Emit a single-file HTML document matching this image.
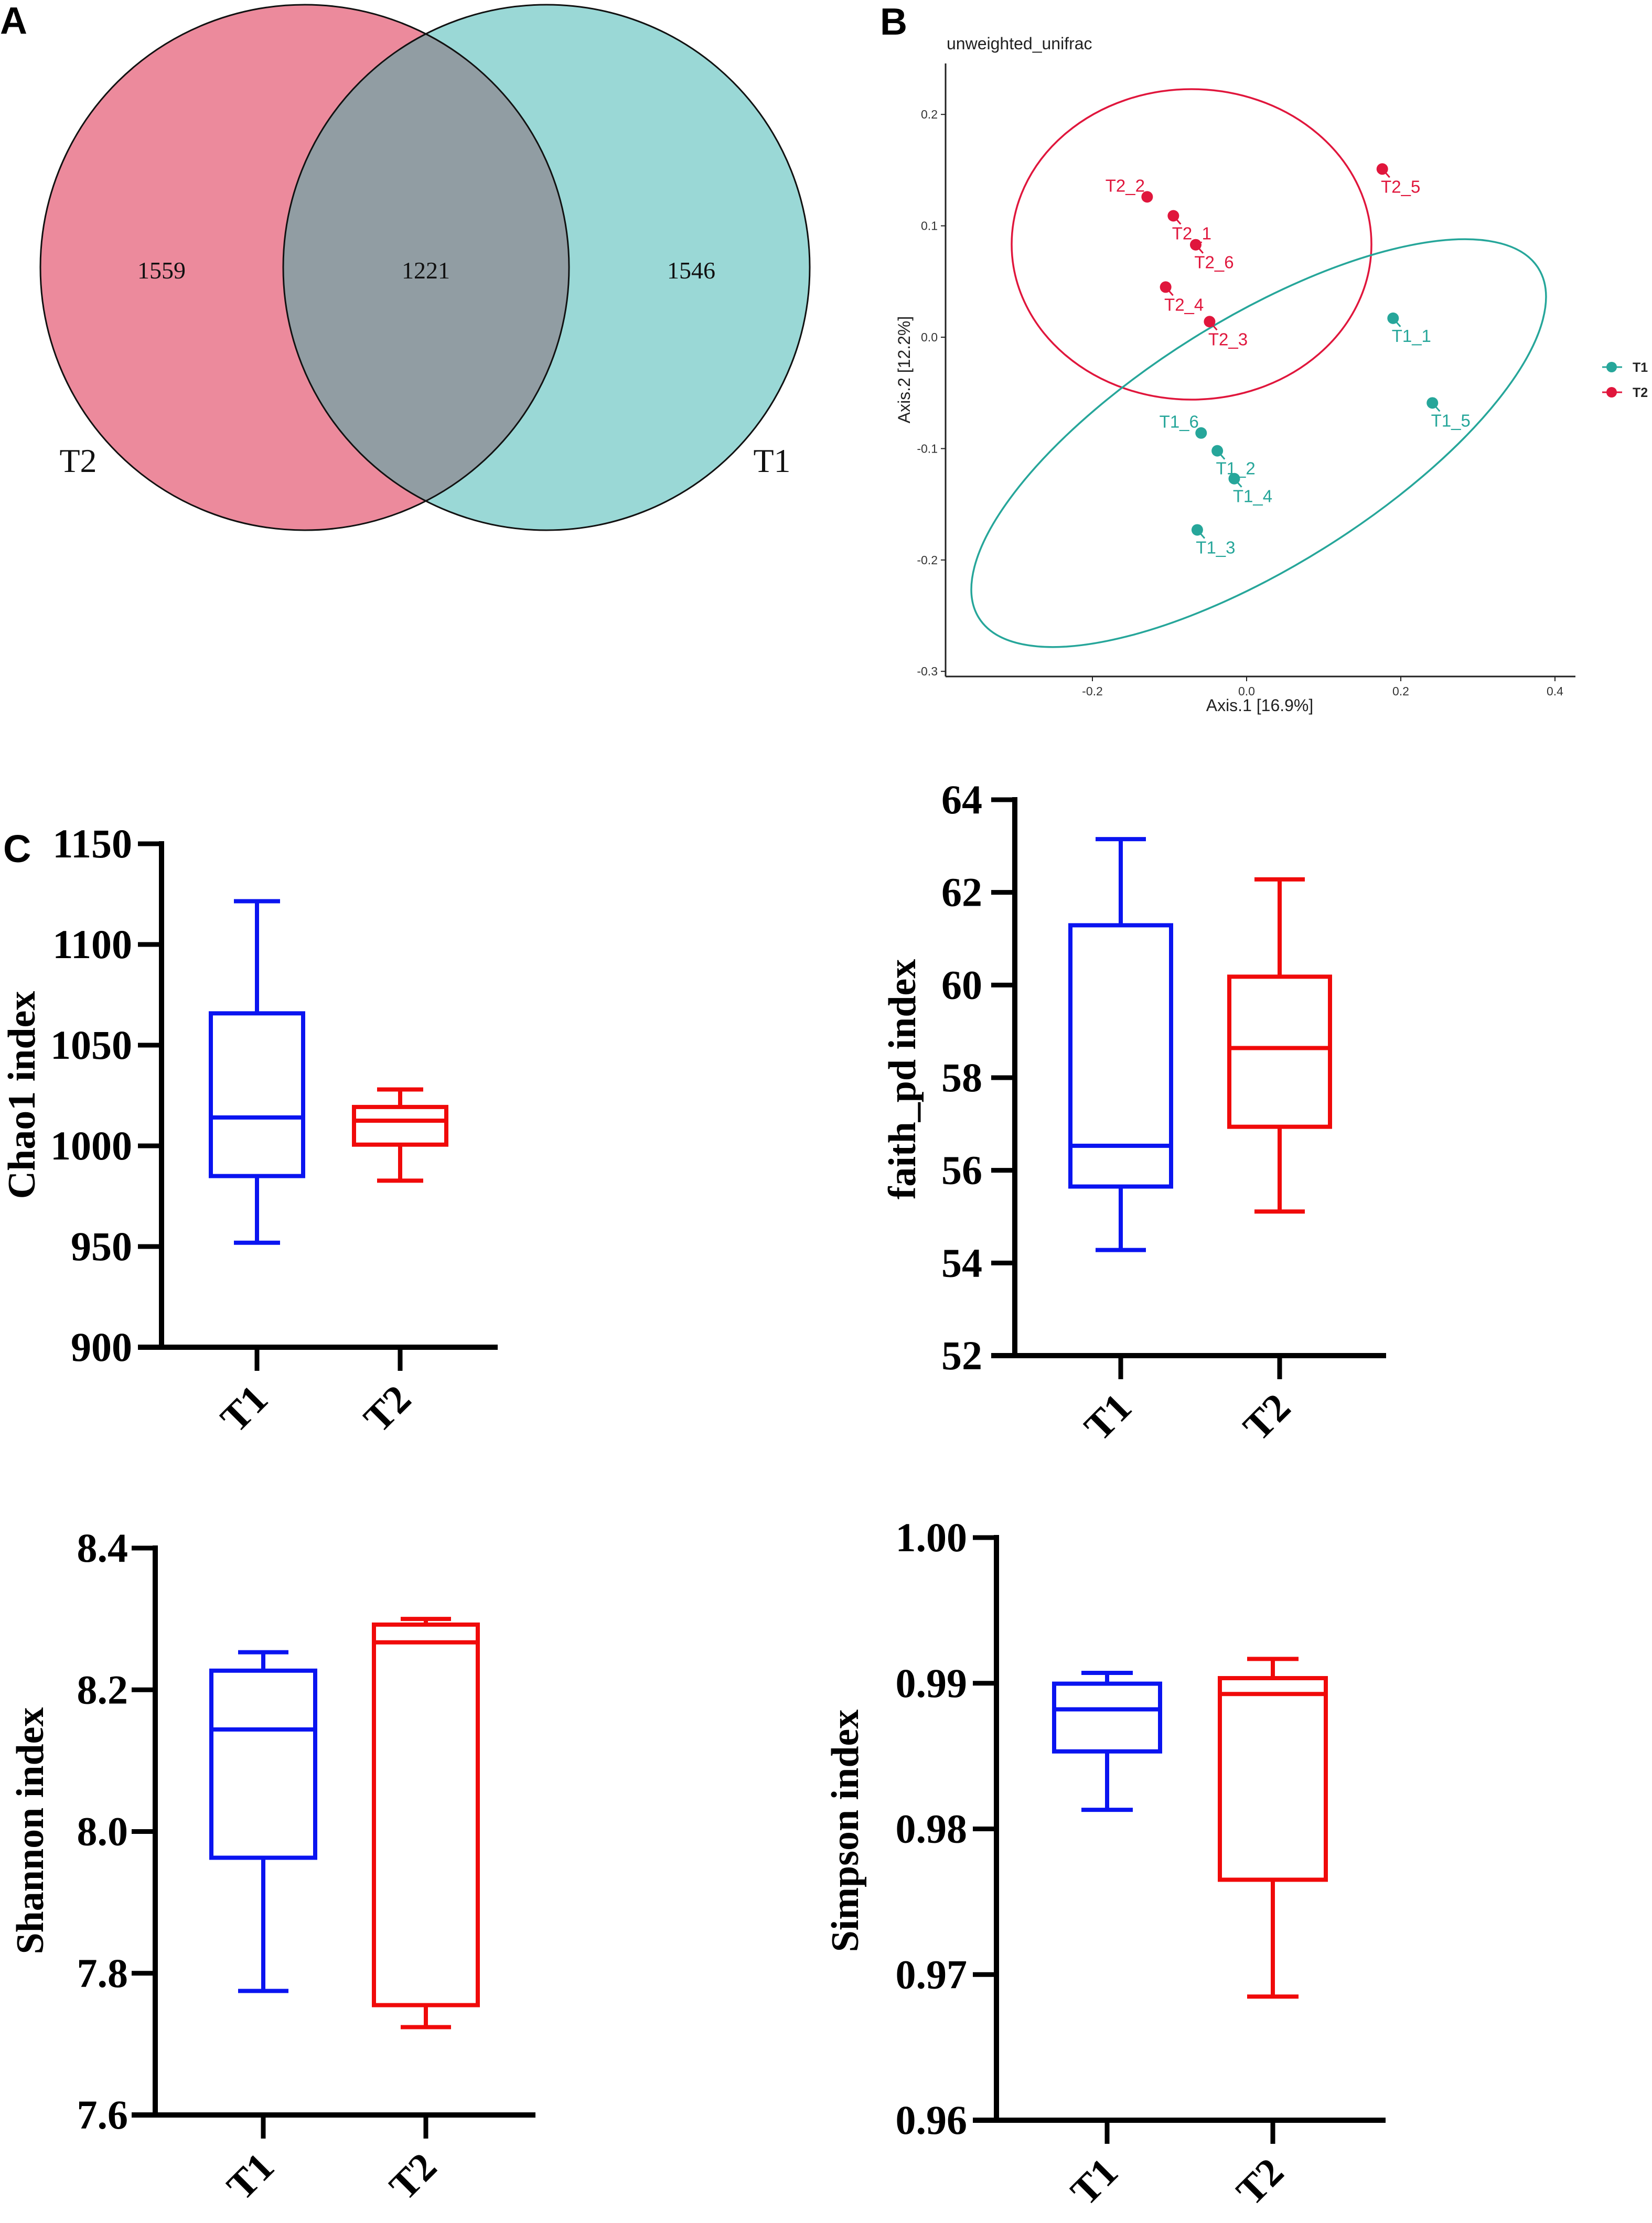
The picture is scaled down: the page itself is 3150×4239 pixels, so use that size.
<!DOCTYPE html>
<html><head><meta charset="utf-8"><style>
html,body{margin:0;padding:0;background:#fff;}
svg{display:block;}
</style></head><body>
<svg id="fig" xmlns="http://www.w3.org/2000/svg" width="3150" height="4239" viewBox="0 0 3150 4239">
<rect width="3150" height="4239" fill="#fff"/>
<!-- Panel A Venn -->
<g>
<text x="0" y="64" font-family="Liberation Sans, sans-serif" font-weight="bold" font-size="72">A</text>
<defs><clipPath id="clipL"><ellipse cx="581" cy="510" rx="504" ry="501"/></clipPath></defs>
<ellipse cx="581" cy="510" rx="504" ry="501" fill="#EC8A9C"/>
<ellipse cx="1042" cy="510" rx="502" ry="501" fill="#9AD8D6"/>
<ellipse cx="1042" cy="510" rx="502" ry="501" fill="#919DA3" clip-path="url(#clipL)"/>
<ellipse cx="581" cy="510" rx="504" ry="501" fill="none" stroke="#111" stroke-width="3"/>
<ellipse cx="1042" cy="510" rx="502" ry="501" fill="none" stroke="#111" stroke-width="3"/>
<g font-family="Liberation Serif, serif" font-size="46" fill="#111" text-anchor="middle">
<text x="308" y="531">1559</text>
<text x="812" y="531">1221</text>
<text x="1318" y="531">1546</text>
</g>
<g font-family="Liberation Serif, serif" font-size="64" fill="#111" text-anchor="middle">
<text x="149" y="900">T2</text>
<text x="1472" y="900">T1</text>
</g>
</g>
<!-- Panel B PCoA -->
<g id="pcoa">
<text x="1678" y="66" font-family="Liberation Sans, sans-serif" font-weight="bold" font-size="72">B</text>
<text x="1805" y="94" font-family="Liberation Sans, sans-serif" font-size="32" fill="#222">unweighted_unifrac</text>
<text x="2402" y="1356" text-anchor="middle" font-family="Liberation Sans, sans-serif" font-size="32" fill="#222">Axis.1 [16.9%]</text>
<text transform="translate(1735,705) rotate(-90)" text-anchor="middle" font-family="Liberation Sans, sans-serif" font-size="32" fill="#222">Axis.2 [12.2%]</text>
</g>
<g id="boxes"></g>
<text x="6" y="1644" font-family="Liberation Sans, sans-serif" font-weight="bold" font-size="74">C</text>
</svg>
<script>
// ---- PCoA data ----
const pcoaNames = ["T2_1","T2_2","T2_3","T2_4","T2_5","T2_6","T1_1","T1_2","T1_3","T1_4","T1_5","T1_6"];
const pcoaGroup = ["T2","T2","T2","T2","T2","T2","T1","T1","T1","T1","T1","T1"];
const pcoaX = [-0.095,-0.129,-0.048,-0.105,0.176,-0.066,0.190,-0.038,-0.064,-0.016,0.241,-0.059];
const pcoaY = [0.109,0.126,0.014,0.045,0.151,0.083,0.017,-0.102,-0.173,-0.127,-0.059,-0.086];
const pcoaXTicks = [-0.2,0.0,0.2,0.4];
const pcoaXTickLabels = ["-0.2","0.0","0.2","0.4"];
const pcoaYTicks = [0.2,0.1,0.0,-0.1,-0.2,-0.3];
const pcoaYTickLabels = ["0.2","0.1","0.0","-0.1","-0.2","-0.3"];
const legendGroups = ["T1","T2"];

// ---- Alpha diversity data: [min, q1, median, q3, max] ----
const chaoT1 = [951.9,985.0,1014.1,1065.8,1121.5];
const chaoT2 = [982.7,1000.6,1012.5,1019.3,1028.0];
const chaoTicks = [900,950,1000,1050,1100,1150];
const chaoTickLabels = ["900","950","1000","1050","1100","1150"];
const faithT1 = [54.28,55.65,56.53,61.29,63.15];
const faithT2 = [55.11,56.94,58.64,60.18,62.28];
const faithTicks = [52,54,56,58,60,62,64];
const faithTickLabels = ["52","54","56","58","60","62","64"];
const shannonT1 = [7.775,7.963,8.144,8.227,8.253];
const shannonT2 = [7.724,7.755,8.267,8.292,8.300];
const shannonTicks = [7.6,7.8,8.0,8.2,8.4];
const shannonTickLabels = ["7.6","7.8","8.0","8.2","8.4"];
const simpsonT1 = [0.98131,0.98532,0.98821,0.98997,0.99071];
const simpsonT2 = [0.96849,0.97651,0.98926,0.99035,0.99167];
const simpsonTicks = [0.96,0.97,0.98,0.99,1.00];
const simpsonTickLabels = ["0.96","0.97","0.98","0.99","1.00"];
const boxCategories = ["T1","T2"];

const NS = "http://www.w3.org/2000/svg";
function mk(tag, attrs, parent){const e=document.createElementNS(NS,tag);for(const k in attrs)e.setAttribute(k,attrs[k]);parent.appendChild(e);return e;}

// ---- PCoA drawing ----
(function(){
  const g = document.getElementById('pcoa');
  const sx = v => 2377 + v*1470;
  const sy = v => 643 - v*2124;
  const teal = "#26A69A", red = "#E0163C";
  // axes
  let a = mk('line',{x1:1803,y1:121,x2:1803,y2:1290,stroke:'#222','stroke-width':3},g);
   
  a = mk('line',{x1:1803,y1:1290,x2:3004,y2:1290,stroke:'#222','stroke-width':3},g);
   
  pcoaXTicks.forEach((t,i)=>{
    mk('line',{x1:sx(t),y1:1290,x2:sx(t),y2:1299,stroke:'#222','stroke-width':2},g);
    const tx = mk('text',{x:sx(t),y:1326,'text-anchor':'middle','font-family':'Liberation Sans, sans-serif','font-size':23,fill:'#333'},g);
    tx.textContent = pcoaXTickLabels[i];
     
  });
  pcoaYTicks.forEach((t,i)=>{
    mk('line',{x1:1794,y1:sy(t),x2:1803,y2:sy(t),stroke:'#222','stroke-width':2},g);
    const tx = mk('text',{x:1788,y:sy(t)+8,'text-anchor':'end','font-family':'Liberation Sans, sans-serif','font-size':23,fill:'#333'},g);
    tx.textContent = pcoaYTickLabels[i];
     
  });
  // confidence ellipses
  let el = mk('ellipse',{cx:2272,cy:466,rx:343,ry:296,fill:'none',stroke:red,'stroke-width':3.5},g);
   
  el = mk('ellipse',{cx:2400,cy:845,rx:629,ry:236,fill:'none',stroke:teal,'stroke-width':3.5,transform:'rotate(-32 2400 845)'},g);
   
  // points + labels
  pcoaNames.forEach((n,i)=>{
    const c = pcoaGroup[i]==="T1"?teal:red;
    const px = sx(pcoaX[i]), py = sy(pcoaY[i]);
    const leftLabel = (n==="T2_2"||n==="T1_6");
    if(!leftLabel) mk('line',{x1:px,y1:py,x2:px+14,y2:py+16,stroke:c,'stroke-width':3},g);
    const p = mk('circle',{cx:px,cy:py,r:11,fill:c},g);
    
    
    const t = mk('text',{x:leftLabel?px-42:px+35,y:leftLabel?py-10:py+45,'text-anchor':'middle','font-family':'Liberation Sans, sans-serif','font-size':33,fill:c},g);
    t.textContent = n;
    
    
  });
  // legend
  legendGroups.forEach((lg,i)=>{
    const c = lg==="T1"?teal:red;
    const y = 700 + i*48;
    const lgg = mk('g',{},g);
    
    
    mk('line',{x1:3055,y1:y,x2:3093,y2:y,stroke:c,'stroke-width':3},lgg);
    mk('circle',{cx:3073,cy:y,r:10,fill:c},lgg);
    const t = mk('text',{x:3113,y:y+9,'font-family':'Liberation Sans, sans-serif','font-size':25,'font-weight':'bold',fill:'#222'},lgg);
    t.textContent = lg;
  });
})();

// ---- Box plots ----
function boxPlot(cfg, t1, t2, ticks, tickLabels, title, name){
  const root = document.getElementById('boxes');
  const g = mk('g',{},root);
  
  
  const lo = ticks[0], hi = ticks[ticks.length-1];
  const sy = v => cfg.yBot - (v-lo)/(hi-lo)*(cfg.yBot-cfg.yTop);
  const series = [t1,t2], colors = ["#0A14F0","#F00A0A"];
  series.forEach((s,i)=>{
    const cx = cfg.cx[i], c = colors[i], hw = cfg.hw, cw = cfg.cw;
    const bg = mk('g',{fill:'none',stroke:c,'stroke-width':8},g);
    
    
    mk('line',{x1:cx,y1:sy(s[4]),x2:cx,y2:sy(s[3])},bg);
    mk('line',{x1:cx,y1:sy(s[1]),x2:cx,y2:sy(s[0])},bg);
    mk('line',{x1:cx-cw,y1:sy(s[4]),x2:cx+cw,y2:sy(s[4])},bg);
    mk('line',{x1:cx-cw,y1:sy(s[0]),x2:cx+cw,y2:sy(s[0])},bg);
    mk('rect',{x:cx-hw,y:sy(s[3]),width:2*hw,height:sy(s[1])-sy(s[3])},bg);
    mk('line',{x1:cx-hw,y1:sy(s[2]),x2:cx+hw,y2:sy(s[2])},bg);
  });
  // axes
  const ya = mk('line',{x1:cfg.ax,y1:cfg.yTop-5,x2:cfg.ax,y2:cfg.yBot+5,stroke:'#000','stroke-width':10},g);
   
  const xa = mk('line',{x1:cfg.ax-45,y1:cfg.yBot,x2:cfg.xEnd,y2:cfg.yBot,stroke:'#000','stroke-width':10},g);
   
  ticks.forEach((t,i)=>{
    mk('line',{x1:cfg.ax-45,y1:sy(t),x2:cfg.ax,y2:sy(t),stroke:'#000','stroke-width':9},g);
    const tx = mk('text',{x:cfg.labR,y:sy(t)+26,'text-anchor':'end','font-family':'Liberation Serif, serif','font-weight':'bold','font-size':78,fill:'#000'},g);
    tx.textContent = tickLabels[i];
    
    
  });
  boxCategories.forEach((cat,i)=>{
    const cx = cfg.cx[i];
    mk('line',{x1:cx,y1:cfg.yBot,x2:cx,y2:cfg.yBot+45,stroke:'#000','stroke-width':9},g);
    const ax = cx+7, ay = cfg.yBot+86;
    const tx = mk('text',{x:ax,y:ay,'text-anchor':'end','dominant-baseline':'central',transform:`rotate(-45 ${ax} ${ay})`,'font-family':'Liberation Serif, serif','font-weight':'bold','font-size':76,fill:'#000'},g);
    tx.textContent = cat;
    
    
  });
  const tt = mk('text',{x:0,y:0,'text-anchor':'middle','dominant-baseline':'central',transform:`translate(${cfg.titleX},${cfg.titleY}) rotate(-90)`,'font-family':'Liberation Serif, serif','font-weight':'bold','font-size':74,fill:'#000'},g);
  tt.textContent = title;
  
  
}
boxPlot({ax:308,yTop:1609,yBot:2569,xEnd:949,cx:[490,763],hw:88,cw:44,labR:252,titleX:42,titleY:2088}, chaoT1, chaoT2, chaoTicks, chaoTickLabels, "Chao1 index", "chao1-boxplot");
boxPlot({ax:1935,yTop:1525,yBot:2585,xEnd:2643,cx:[2137,2440],hw:96,cw:48,labR:1873,titleX:1721,titleY:2058}, faithT1, faithT2, faithTicks, faithTickLabels, "faith_pd index", "faith-pd-boxplot");
boxPlot({ax:296,yTop:2952,yBot:4033,xEnd:1021,cx:[502,812],hw:99,cw:48,labR:244,titleX:58,titleY:3491}, shannonT1, shannonT2, shannonTicks, shannonTickLabels, "Shannon index", "shannon-boxplot");
boxPlot({ax:1900,yTop:2932,yBot:4043,xEnd:2642,cx:[2111,2427],hw:101,cw:49,labR:1844,titleX:1612,titleY:3491}, simpsonT1, simpsonT2, simpsonTicks, simpsonTickLabels, "Simpson index", "simpson-boxplot");
</script>
</body></html>
